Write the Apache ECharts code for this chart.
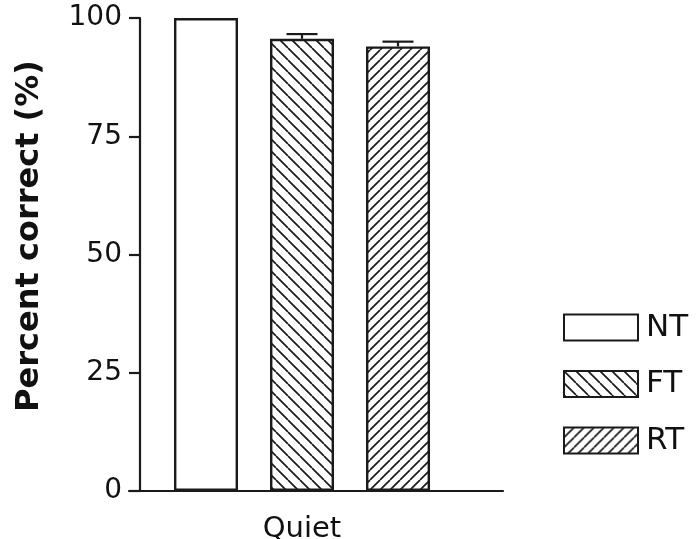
<!DOCTYPE html>
<html>
<head>
<meta charset="utf-8">
<script src="https://cdn.jsdelivr.net/npm/echarts@6/dist/echarts.min.js"></script>
<style>html,body{margin:0;padding:0;background:#fff}#c{width:698px;height:539px}</style>
</head>
<body>
<div id="c"></div>
<script>
// ---- data ----
const categories = ['Quiet'];
const seriesNames = ['NT', 'FT', 'RT'];
const means = [100, 95.6, 94.0];
const errors = [0, 1.0, 1.0];
const yTicks = [0, 25, 50, 75, 100];

// ---- styles ----
const INK = '#1a1a1a';
const BAR_W = 64;
const BAR_GAP = 0.5;
const FONT = 'DejaVu Sans';

function hatch(size, dir) {
  const c = document.createElement('canvas');
  c.width = size; c.height = size;
  const g = c.getContext('2d');
  g.fillStyle = '#fff';
  g.fillRect(0, 0, size, size);
  g.strokeStyle = INK;
  g.lineWidth = 1.7;
  for (let k = -1; k <= 1; k++) {
    g.beginPath();
    if (dir === 'back') {
      g.moveTo(k * size, 0); g.lineTo(k * size + size, size);
    } else {
      g.moveTo(k * size, size); g.lineTo(k * size + size, 0);
    }
    g.stroke();
  }
  return c;
}
const fills = [
  '#ffffff',
  { image: hatch(12, 'back'), repeat: 'repeat' },
  { image: hatch(10, 'fwd'), repeat: 'repeat' }
];

const chart = echarts.init(document.getElementById('c'), null, { renderer: 'canvas' });

const barSeries = seriesNames.map((name, i) => ({
  name: name,
  type: 'bar',
  xAxisIndex: 0,
  yAxisIndex: 0,
  barWidth: BAR_W,
  barGap: (BAR_GAP * 100) + '%',
  data: [means[i]],
  itemStyle: { color: fills[i], borderColor: INK, borderWidth: 2.4 },
  emphasis: { disabled: true },
  silent: true
}));

const errSeries = {
  type: 'custom',
  xAxisIndex: 0,
  yAxisIndex: 0,
  silent: true,
  z: 5,
  data: seriesNames.map((n, i) => [0, means[i], errors[i], i]).filter(d => d[2] > 0),
  renderItem: function (params, api) {
    const m = api.value(1), e = api.value(2), idx = api.value(3);
    const base = api.coord([0, m]);
    const top = api.coord([0, m + e]);
    const x = base[0] + (idx - 1) * BAR_W * (1 + BAR_GAP);
    const half = 15.5;
    const st = { stroke: INK, lineWidth: 2.2 };
    return {
      type: 'group',
      children: [
        { type: 'line', shape: { x1: x, y1: base[1], x2: x, y2: top[1] }, style: st },
        { type: 'line', shape: { x1: x - half, y1: top[1], x2: x + half, y2: top[1] }, style: st }
      ]
    };
  }
};

chart.setOption({
  animation: false,
  backgroundColor: '#fff',
  grid: [
    { left: 129, right: 223, top: 18, bottom: 48, containLabel: false, outerBoundsMode: 'none' },
    { left: 129, right: 195, top: 18, bottom: 48, containLabel: false, outerBoundsMode: 'none' }
  ],
  xAxis: [
    {
      type: 'category', gridIndex: 0, data: categories,
      axisLine: { show: false }, axisTick: { show: false },
      axisLabel: { fontFamily: FONT, fontSize: 29, color: '#111', margin: 24 }
    },
    {
      type: 'value', gridIndex: 1, min: 0, max: 1,
      axisLine: { show: true, lineStyle: { color: INK, width: 2.2 } },
      axisTick: { show: false }, axisLabel: { show: false }, splitLine: { show: false }
    }
  ],
  yAxis: [
    {
      type: 'value', gridIndex: 0, min: yTicks[0], max: yTicks[yTicks.length - 1],
      interval: yTicks[1] - yTicks[0], offset: -11,
      axisLine: { show: true, lineStyle: { color: INK, width: 2.2 } },
      axisTick: { show: true, length: 11, lineStyle: { color: INK, width: 2.2 } },
      axisLabel: { fontFamily: FONT, fontSize: 28, color: '#111', margin: 18 },
      splitLine: { show: false }
    },
    { type: 'value', gridIndex: 1, show: false, min: 0, max: 1 }
  ],
  legend: {
    orient: 'vertical', left: 563, top: 312, padding: 0,
    itemWidth: 74, itemHeight: 26, itemGap: 25.5, icon: 'rect',
    data: seriesNames,
    selectedMode: false,
    textStyle: { fontFamily: FONT, fontSize: 31, color: '#111', lineHeight: 26, padding: [0, 0, 0, 3] }
  },
  graphic: [{
    type: 'text',
    x: 14, y: 236, rotation: Math.PI / 2,
    style: {
      text: 'Percent correct (%)',
      fontFamily: FONT, fontWeight: 'bold', fontSize: 32,
      fill: '#111',
      align: 'center', verticalAlign: 'top'
    }
  }],
  series: barSeries.concat([errSeries])
});
</script>
</body>
</html>
